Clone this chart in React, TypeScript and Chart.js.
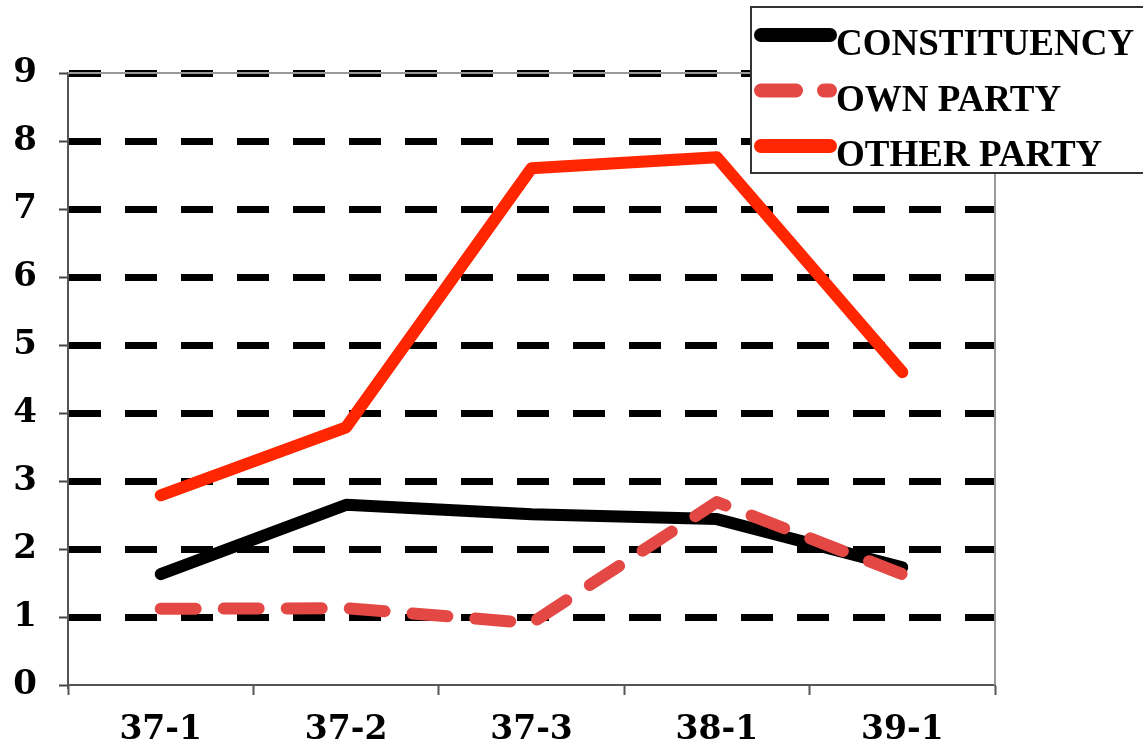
import React, { useEffect, useRef } from "react";
import { Chart, registerables } from "chart.js";

Chart.register(...registerables);

const categories = ["37-1", "37-2", "37-3", "38-1", "39-1"];
const seriesNames = ["CONSTITUENCY", "OWN PARTY", "OTHER PARTY"];
const constituency = [1.63, 2.65, 2.51, 2.44, 1.73];
const ownParty = [1.12, 1.13, 0.91, 2.69, 1.63];
const otherParty = [2.79, 3.79, 7.6, 7.76, 4.6];
const yTicks = [0, 1, 2, 3, 4, 5, 6, 7, 8, 9];

const FONT = "'DejaVu Serif', serif";
const LEGEND_FONT = "'Liberation Serif', serif";
const C_BLACK = "#000000";
const C_OWN = "#E34844";
const C_OTHER = "#FF2600";
const OWN_DASH = [35, 28];

const framePlugin = {
  id: "frame",
  afterDatasetsDraw(chart: any) {
    const { ctx, chartArea } = chart;
    ctx.save();
    ctx.strokeStyle = "#9a9a9a";
    ctx.lineWidth = 2;
    ctx.beginPath();
    ctx.moveTo(chartArea.left, chartArea.top);
    ctx.lineTo(chartArea.right, chartArea.top);
    ctx.lineTo(chartArea.right, chartArea.bottom);
    ctx.stroke();
    ctx.restore();
  },
};

const legendPlugin = {
  id: "customLegend",
  afterDraw(chart: any) {
    const { ctx } = chart;
    ctx.save();
    ctx.fillStyle = "#ffffff";
    ctx.fillRect(751, 7, 400, 166);
    ctx.strokeStyle = "#333333";
    ctx.lineWidth = 2;
    ctx.strokeRect(751, 7, 400, 166);
    const items = chart.data.datasets;
    const order = [0, 1, 2];
    order.forEach((i, row) => {
      const ds = items[i];
      const cy = 35 + row * 55.5;
      ctx.beginPath();
      ctx.strokeStyle = ds.borderColor;
      ctx.lineWidth = 14;
      ctx.lineCap = "round";
      ctx.setLineDash(ds.borderDash || []);
      ctx.moveTo(761, cy);
      ctx.lineTo(830, cy);
      ctx.stroke();
      ctx.setLineDash([]);
      ctx.fillStyle = "#000";
      ctx.font = `bold 37px ${LEGEND_FONT}`;
      ctx.textAlign = "left";
      ctx.textBaseline = "alphabetic";
      ctx.fillText(ds.label, 836, cy + 20);
    });
    ctx.restore();
  },
};

export default function App() {
  const ref = useRef<HTMLCanvasElement | null>(null);
  useEffect(() => {
    if (!ref.current) return;
    const chart = new Chart(ref.current, {
      type: "line",
      data: {
        labels: categories,
        datasets: [
          {
            label: seriesNames[0],
            data: constituency,
            borderColor: C_BLACK,
            backgroundColor: C_BLACK,
            borderWidth: 12,
            pointRadius: 0,
            borderJoinStyle: "round",
            borderCapStyle: "round",
            order: 1,
          },
          {
            label: seriesNames[1],
            data: ownParty,
            borderColor: C_OWN,
            backgroundColor: C_OWN,
            borderWidth: 12,
            borderDash: OWN_DASH,
            pointRadius: 0,
            borderJoinStyle: "round",
            borderCapStyle: "round",
            order: 0,
          },
          {
            label: seriesNames[2],
            data: otherParty,
            borderColor: C_OTHER,
            backgroundColor: C_OTHER,
            borderWidth: 12,
            pointRadius: 0,
            borderJoinStyle: "round",
            borderCapStyle: "round",
            order: 2,
          },
        ],
      },
      options: {
        responsive: false,
        animation: false,
        devicePixelRatio: 1,
        layout: { padding: { top: 73, right: 148, left: 0, bottom: 0 } },
        plugins: {
          legend: { display: false },
          tooltip: { enabled: false },
        },
        scales: {
          x: {
            type: "category",
            offset: true,
            grid: {
              offset: true,
              drawOnChartArea: false,
              drawTicks: true,
              tickLength: 10,
              tickColor: "#555555",
              tickWidth: 2,
            },
            border: { display: true, color: "#555555", width: 2 },
            ticks: {
              color: "#000",
              font: { family: FONT, weight: "bold", size: 33 },
              padding: 16,
              maxRotation: 0,
            },
            afterFit(scale: any) {
              scale.height = 67;
            },
          },
          y: {
            min: 0,
            max: 9,
            afterBuildTicks(scale: any) {
              scale.ticks = yTicks.map((v) => ({ value: v }));
            },
            grid: {
              color: (c: any) => (c.tick && c.tick.value === 0 ? "rgba(0,0,0,0)" : "#000"),
              lineWidth: 7,
              tickLength: 9,
              tickColor: "#444444",
              tickWidth: 2,
              tickBorderDash: [],
            },
            border: { display: true, color: "#555555", width: 2, dash: [32, 24] },
            ticks: {
              color: "#000",
              font: { family: FONT, weight: "bold", size: 34 },
              padding: 22,
              crossAlign: "center",
            },
            afterFit(scale: any) {
              scale.width = 68;
            },
          },
        },
      } as any,
      plugins: [framePlugin, legendPlugin],
    });
    return () => chart.destroy();
  }, []);
  return (
    <div style={{ position: "absolute", left: 0, top: 0, width: 1143, height: 752, background: "#fff" }}>
      <canvas ref={ref} width={1143} height={752} style={{ display: "block" }} />
    </div>
  );
}
